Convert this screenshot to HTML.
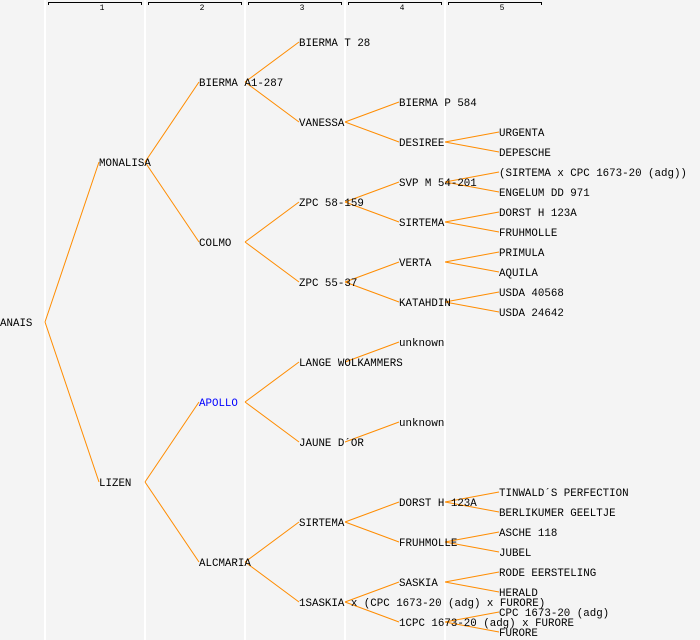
<!DOCTYPE html>
<html><head><meta charset="utf-8"><style>
html,body{margin:0;padding:0;background:#f4f4f4;}
svg{display:block;}
text{font-family:"Liberation Mono",monospace;font-size:10.8px;fill:#000;}
</style></head><body>
<svg width="700" height="640" xmlns="http://www.w3.org/2000/svg">
<rect width="700" height="640" fill="#f4f4f4"/>
<g stroke="#fff" stroke-width="2">
<line x1="45" y1="0" x2="45" y2="640"/><line x1="145" y1="0" x2="145" y2="640"/>
<line x1="245" y1="0" x2="245" y2="640"/><line x1="345" y1="0" x2="345" y2="640"/>
<line x1="445" y1="0" x2="445" y2="640"/>
</g>
<g stroke="#000" stroke-width="1" fill="none">
<path d="M48.5 5V2.5H141.5V5"/><path d="M148.5 5V2.5H241.5V5"/><path d="M248.5 5V2.5H341.5V5"/><path d="M348.5 5V2.5H441.5V5"/><path d="M448.5 5V2.5H541.5V5"/>
</g>
<g text-anchor="middle">
<text x="102" y="10" style="font-size:8px">1</text><text x="202" y="10" style="font-size:8px">2</text><text x="302" y="10" style="font-size:8px">3</text><text x="402" y="10" style="font-size:8px">4</text><text x="502" y="10" style="font-size:8px">5</text>
</g>
<g stroke="#ff8c00" stroke-width="1" fill="none">
<path d="M45 322L99 162M45 322L99 482"/>
<path d="M145 162L199 82M145 162L199 242M145 482L199 402M145 482L199 562"/>
<path d="M245 82L299 42M245 82L299 122M245 242L299 202M245 242L299 282M245 402L299 362M245 402L299 442M245 562L299 522M245 562L299 602"/>
<path d="M345 122L399 102M345 122L399 142M345 202L399 182M345 202L399 222M345 282L399 262M345 282L399 302M345 362L399 342M345 442L399 422M345 522L399 502M345 522L399 542M345 602L399 582M345 602L399 622"/>
<path d="M445 142L499 132M445 142L499 152M445 182L499 172M445 182L499 192M445 222L499 212M445 222L499 232M445 262L499 252M445 262L499 272M445 302L499 292M445 302L499 312M445 502L499 492M445 502L499 512M445 542L499 532M445 542L499 552M445 582L499 572M445 582L499 592M445 622L499 612M445 622L499 632"/>
</g>
<g>
<text x="0" y="326">ANAIS</text>
<text x="99" y="166">MONALISA</text><text x="99" y="486">LIZEN</text>
<text x="199" y="86">BIERMA A1-287</text><text x="199" y="246">COLMO</text><text x="199" y="406" style="fill:#0000ff">APOLLO</text><text x="199" y="566">ALCMARIA</text>
<text x="299" y="46">BIERMA T 28</text><text x="299" y="126">VANESSA</text><text x="299" y="206">ZPC 58-159</text><text x="299" y="286">ZPC 55-37</text><text x="299" y="366">LANGE WOLKAMMERS</text><text x="299" y="446">JAUNE D´OR</text><text x="299" y="526">SIRTEMA</text><text x="299" y="606">1SASKIA x (CPC 1673-20 (adg) x FURORE)</text>
<text x="399" y="106">BIERMA P 584</text><text x="399" y="146">DESIREE</text><text x="399" y="186">SVP M 54-201</text><text x="399" y="226">SIRTEMA</text><text x="399" y="266">VERTA</text><text x="399" y="306">KATAHDIN</text><text x="399" y="346">unknown</text><text x="399" y="426">unknown</text><text x="399" y="506">DORST H 123A</text><text x="399" y="546">FRUHMOLLE</text><text x="399" y="586">SASKIA</text><text x="399" y="626">1CPC 1673-20 (adg) x FURORE</text>
<text x="499" y="136">URGENTA</text><text x="499" y="156">DEPESCHE</text><text x="499" y="176">(SIRTEMA x CPC 1673-20 (adg))</text><text x="499" y="196">ENGELUM DD 971</text><text x="499" y="216">DORST H 123A</text><text x="499" y="236">FRUHMOLLE</text><text x="499" y="256">PRIMULA</text><text x="499" y="276">AQUILA</text><text x="499" y="296">USDA 40568</text><text x="499" y="316">USDA 24642</text><text x="499" y="496">TINWALD´S PERFECTION</text><text x="499" y="516">BERLIKUMER GEELTJE</text><text x="499" y="536">ASCHE 118</text><text x="499" y="556">JUBEL</text><text x="499" y="576">RODE EERSTELING</text><text x="499" y="596">HERALD</text><text x="499" y="616">CPC 1673-20 (adg)</text><text x="499" y="636">FURORE</text>
</g>
</svg>
</body></html>
